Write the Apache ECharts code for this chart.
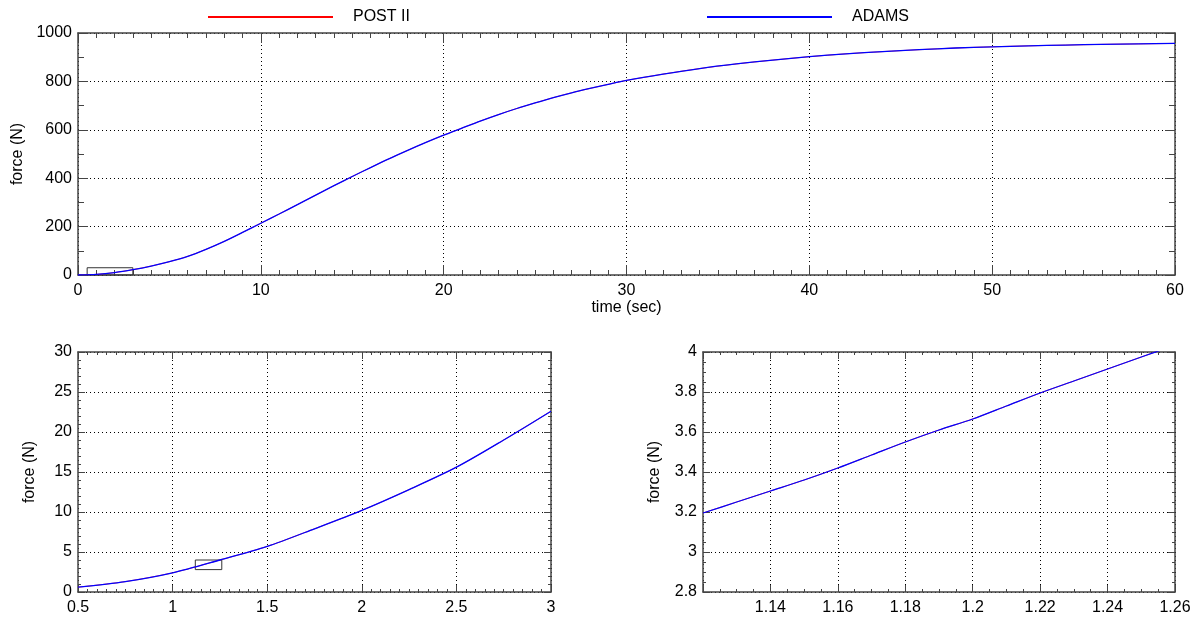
<!DOCTYPE html>
<html>
<head>
<meta charset="utf-8">
<script src="https://cdn.jsdelivr.net/npm/echarts@6/dist/echarts.min.js"></script>
<style>
  html, body { margin: 0; padding: 0; background: #fff; }
  #chart { width: 1202px; height: 617px; }
</style>
</head>
<body>
<div id="chart"></div>
<script>
// Force history, full run (sec, N)
const timeFull = [0,1,2,3,4,5,6,7,8,9,10,11,12,13,14,15,16,17,18,19,20,21,22,23,24,25,26,27,28,29,30,
                  32,34,36,38,40,42,44,46,48,50,52,54,56,58,60];
const forceAdams = [0,2.5,10,22,37,55,77,106,139,176,214,252,291,330,369,407,444,480,514,547,578,607,636,663,688,711,733,753,771,788,804,
                    830,853,872,888,902,914,923,931,938,943,947,950,953,955,957];
const forcePost = [0,2.5,10,22,37,55,77,106,139,176,214,252,291,330,369,407,444,480,514,547,578,607,636,663,688,711,733,753,771,788,804,
                   830,853,872,888,902,914,923,931,938,943,947,950,953,955,957];

// First detail window (0.5 .. 3 sec)
const timeDetail1 = [0.5,0.75,1.0,1.25,1.5,1.75,2.0,2.25,2.5,2.75,3.0];
const forceAdams1 = [0.6,1.3,2.4,4.0,5.7,7.9,10.2,12.8,15.6,19.0,22.6];
const forcePost1  = [0.6,1.3,2.4,4.0,5.7,7.9,10.2,12.8,15.6,19.0,22.6];

// Second detail window (1.12 .. 1.26 sec)
const timeDetail2 = [1.12,1.13,1.14,1.15,1.16,1.17,1.18,1.19,1.20,1.21,1.22,1.23,1.24,1.25,1.26];
const forceAdams2 = [3.195,3.25,3.305,3.36,3.42,3.485,3.55,3.61,3.665,3.73,3.795,3.855,3.915,3.975,4.035];
const forcePost2  = [3.195,3.25,3.305,3.36,3.42,3.485,3.55,3.61,3.665,3.73,3.795,3.855,3.915,3.975,4.035];

// Axis ranges [min, max, interval, minor divisions]
const fullX = [0, 60, 10, 10];
const fullY = [0, 1000, 200, 2];
const det1X = [0.5, 3, 0.5, 10];
const det1Y = [0, 30, 5, 5];
const det2X = [1.12, 1.26, 0.02, 4];
const det2Y = [2.8, 4, 0.2, 4];

const FONT = 'Liberation Sans';
const frameColor = '#444';

function pairs(xs, ys) { return xs.map((x, i) => [x, ys[i]]); }
function boxPath(xr, yr) {
  return [[xr[0], yr[0]], [xr[1], yr[0]], [xr[1], yr[1]], [xr[0], yr[1]], [xr[0], yr[0]]];
}
function fmt(v) { return String(+v.toFixed(3)); }

function makeAxis(dim, gridIndex, r, primary, opt) {
  const isX = dim === 'x';
  const a = {
    type: 'value', gridIndex: gridIndex,
    min: r[0], max: r[1], interval: r[2],
    position: isX ? (primary ? 'bottom' : 'top') : (primary ? 'left' : 'right'),
    axisLine: { show: true, onZero: false, lineStyle: { color: frameColor, width: 1.5 } },
    axisTick: { show: true, inside: true, length: opt.major, lineStyle: { color: frameColor, width: 1 } },
    minorTick: { show: true, splitNumber: r[3], length: opt.minor, lineStyle: { color: frameColor, width: 1 } },
    splitLine: { show: primary, lineStyle: { color: '#000', width: 1, type: [1, 3] } },
    minorSplitLine: { show: false },
    axisLabel: {
      show: primary, color: '#000', fontFamily: FONT, fontSize: 16, margin: isX ? 8 : 6,
      showMinLabel: true, showMaxLabel: true,
      formatter: opt.labelFmt || fmt
    }
  };
  if (primary && opt.name) {
    a.name = opt.name;
    a.nameLocation = 'middle';
    a.nameGap = opt.nameGap;
    a.nameTextStyle = { color: '#000', fontFamily: FONT, fontSize: 16 };
  }
  return a;
}

const grids = [
  { left: 78, top: 33, width: 1097, height: 242 },
  { left: 78, top: 352, width: 473, height: 240 },
  { left: 703, top: 352, width: 472, height: 240 }
];

const xAxes = [
  makeAxis('x', 0, fullX, true, { major: 10, minor: 5, name: 'time (sec)', nameGap: 25 }),
  makeAxis('x', 0, fullX, false, { major: 10, minor: 5 }),
  makeAxis('x', 1, det1X, true, { major: 7, minor: 3 }),
  makeAxis('x', 1, det1X, false, { major: 7, minor: 3 }),
  makeAxis('x', 2, det2X, true, { major: 7, minor: 3,
    labelFmt: v => (Math.abs(v - det2X[0]) < 1e-9 ? '' : fmt(v)) }),
  makeAxis('x', 2, det2X, false, { major: 7, minor: 3 })
];
const yAxes = [
  makeAxis('y', 0, fullY, true, { major: 10, minor: 6, name: 'force (N)', nameGap: 51 }),
  makeAxis('y', 0, fullY, false, { major: 10, minor: 6 }),
  makeAxis('y', 1, det1Y, true, { major: 7, minor: 3, name: 'force (N)', nameGap: 40 }),
  makeAxis('y', 1, det1Y, false, { major: 7, minor: 3 }),
  makeAxis('y', 2, det2Y, true, { major: 7, minor: 3, name: 'force (N)', nameGap: 40 }),
  makeAxis('y', 2, det2Y, false, { major: 7, minor: 3 })
];

function curve(name, color, data, idx) {
  const top = name === 'ADAMS';
  return {
    name: name, type: 'line', xAxisIndex: idx, yAxisIndex: idx,
    data: data, showSymbol: false, symbol: 'none', clip: true,
    smooth: 0.3,
    lineStyle: { color: color, width: top ? 1.3 : 0.7 }, itemStyle: { color: color },
    animation: false, z: top ? 4 : 3
  };
}
function box(data, idx) {
  return {
    type: 'line', xAxisIndex: idx, yAxisIndex: idx, data: data,
    showSymbol: false, symbol: 'none', clip: false,
    lineStyle: { color: '#333', width: 1 }, animation: false, silent: true, z: 2
  };
}

const series = [
  curve('POST II', '#ff0000', pairs(timeFull, forcePost), 0),
  curve('ADAMS', '#0000ff', pairs(timeFull, forceAdams), 0),
  curve('POST II', '#ff0000', pairs(timeDetail1, forcePost1), 2),
  curve('ADAMS', '#0000ff', pairs(timeDetail1, forceAdams1), 2),
  curve('POST II', '#ff0000', pairs(timeDetail2, forcePost2), 4),
  curve('ADAMS', '#0000ff', pairs(timeDetail2, forceAdams2), 4),
  // outlines of the zoomed windows
  box(boxPath(det1X, det1Y), 0),
  box(boxPath(det2X, det2Y), 2)
];

function legendAt(left, name) {
  return {
    left: left, top: 4, data: [{ name: name, icon: 'rect' }],
    itemWidth: 125, itemHeight: 2,
    textStyle: { color: '#000', fontFamily: FONT, fontSize: 16, padding: [0, 0, 0, 15] },
    selectedMode: false
  };
}

const chart = echarts.init(document.getElementById('chart'), null, { renderer: 'canvas' });
chart.setOption({
  backgroundColor: '#fff',
  animation: false,
  legend: [legendAt(203, 'POST II'), legendAt(702, 'ADAMS')],
  grid: grids,
  xAxis: xAxes,
  yAxis: yAxes,
  series: series
});
</script>
</body>
</html>
